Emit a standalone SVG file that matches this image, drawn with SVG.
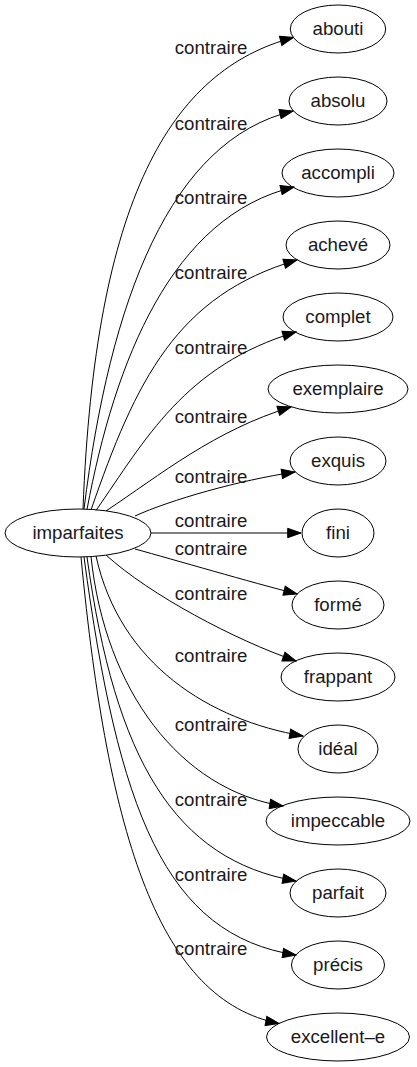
<svg xmlns="http://www.w3.org/2000/svg" width="417" height="1067" viewBox="0 0 417 1067">
<style>
.n ellipse{fill:none;stroke:#000;stroke-width:1}
text{font-family:"Liberation Sans",Arial,sans-serif;font-size:18.67px;fill:#1a1a1a;text-anchor:middle}
.e path{fill:none;stroke:#000;stroke-width:1;marker-end:url(#ah)}
</style>
<defs>
<marker id="ah" markerUnits="userSpaceOnUse" markerWidth="15" markerHeight="11" refX="13.3" refY="4.7" orient="auto" viewBox="-1 -1 15 11">
<path d="M0,0 L13.3,4.7 L0,9.4 z" fill="#000" stroke="#000" stroke-width="1"/>
</marker>
</defs>
<rect width="417" height="1067" fill="#fff"/>
<g id="edges" class="e">
<path d="M83,509 C95,200 170,70 293.5,37.5"/>
<path d="M84,509 C110,300 170,140 293,111"/>
<path d="M87,509.5 C115,360 172,216 294,187"/>
<path d="M91,510 C136,380 177,295 297,260"/>
<path d="M96,510.5 C145,440 185,365 296,332"/>
<path d="M106,511 C160,475 215,430 291,407"/>
<path d="M135,516 C170,500 240,480 295,472"/>
<path d="M151,533 L301,533"/>
<path d="M135,549 C175,560 250,582 297,594"/>
<path d="M106,555 C150,595 235,640 296,661"/>
<path d="M96,556 C120,665 210,720 303,736"/>
<path d="M91,556.5 C105,690 180,790 283,806"/>
<path d="M87,557 C115,760 175,860 296,881"/>
<path d="M84,557 C118,810 165,935 296,955"/>
<path d="M81,557 C108,840 160,1000 279,1023.5"/>
</g>
<g id="labels">
<text x="211" y="54">contraire</text>
<text x="211" y="130">contraire</text>
<text x="211" y="204">contraire</text>
<text x="211" y="279">contraire</text>
<text x="211" y="354">contraire</text>
<text x="211" y="423">contraire</text>
<text x="211" y="483">contraire</text>
<text x="211" y="527">contraire</text>
<text x="211" y="555">contraire</text>
<text x="211" y="600">contraire</text>
<text x="211" y="662">contraire</text>
<text x="211" y="731">contraire</text>
<text x="211" y="806">contraire</text>
<text x="211" y="881">contraire</text>
<text x="211" y="955">contraire</text>
</g>
<g id="imparfaites" class="n"><ellipse cx="78" cy="533" rx="73" ry="24"/><text x="78" y="539">imparfaites</text></g>
<g id="abouti" class="n"><ellipse cx="338" cy="29" rx="47.7" ry="24"/><text x="338" y="35">abouti</text></g>
<g id="absolu" class="n"><ellipse cx="338" cy="101" rx="49" ry="24"/><text x="338" y="107">absolu</text></g>
<g id="accompli" class="n"><ellipse cx="338" cy="173" rx="56" ry="24"/><text x="338" y="179">accompli</text></g>
<g id="acheve" class="n"><ellipse cx="338" cy="245" rx="52" ry="24"/><text x="338" y="251">achevé</text></g>
<g id="complet" class="n"><ellipse cx="338" cy="317" rx="55" ry="24"/><text x="338" y="323">complet</text></g>
<g id="exemplaire" class="n"><ellipse cx="338" cy="389" rx="70" ry="24"/><text x="338" y="395">exemplaire</text></g>
<g id="exquis" class="n"><ellipse cx="338" cy="461" rx="48" ry="24"/><text x="338" y="467">exquis</text></g>
<g id="fini" class="n"><ellipse cx="338" cy="533" rx="36" ry="24"/><text x="338" y="539">fini</text></g>
<g id="forme" class="n"><ellipse cx="338" cy="605" rx="46" ry="24"/><text x="338" y="611">formé</text></g>
<g id="frappant" class="n"><ellipse cx="338" cy="677" rx="57" ry="24"/><text x="338" y="683">frappant</text></g>
<g id="ideal" class="n"><ellipse cx="338" cy="749" rx="40" ry="24"/><text x="338" y="755">idéal</text></g>
<g id="impeccable" class="n"><ellipse cx="338" cy="821" rx="72" ry="24"/><text x="338" y="827">impeccable</text></g>
<g id="parfait" class="n"><ellipse cx="338" cy="893" rx="48" ry="24"/><text x="338" y="899">parfait</text></g>
<g id="precis" class="n"><ellipse cx="338" cy="965" rx="46.5" ry="24"/><text x="338" y="971">précis</text></g>
<g id="excellent-e" class="n"><ellipse cx="338" cy="1037" rx="71.5" ry="24"/><text x="338" y="1043">excellent–e</text></g>
</svg>
